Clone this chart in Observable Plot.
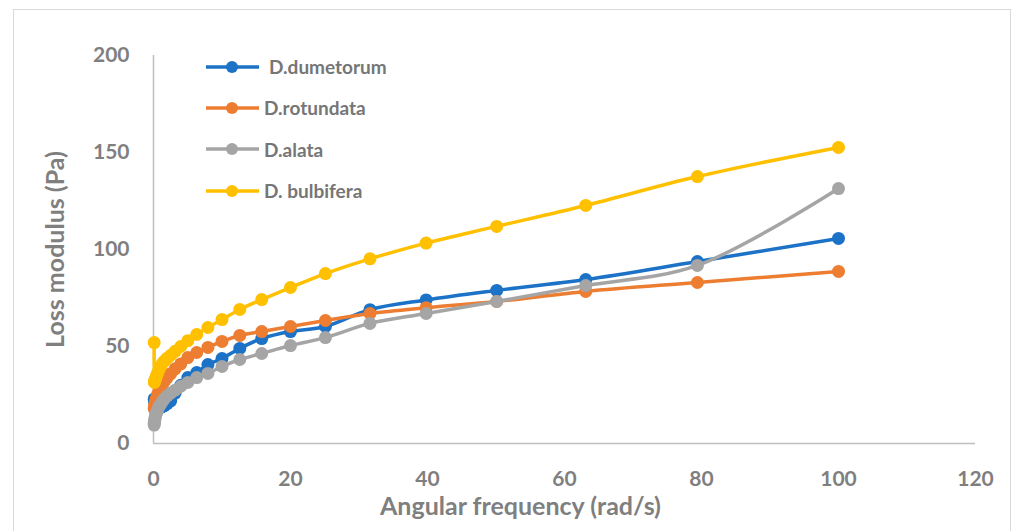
<!DOCTYPE html>
<html>
<head>
<meta charset="utf-8">
<script src="https://cdn.jsdelivr.net/npm/d3@7"></script>
<script src="https://cdn.jsdelivr.net/npm/@observablehq/plot@0.6"></script>
<style>
  html, body { margin: 0; padding: 0; background: #fff; }
  #wrap { position: relative; width: 1019px; height: 531px; overflow: hidden; font-family: Lato, "Open Sans", sans-serif; }
  #frame { position: absolute; left: 13px; top: 9px; width: 998px; height: 540px; border: 1px solid #d9d9d9; box-sizing: border-box; }
  #chart { position: absolute; left: 0; top: 0; }
  #legend { position: absolute; left: 205px; top: 46px; }
  .item { display: flex; align-items: center; height: 41.3px; font-weight: bold; font-size: 19px; color: #767676; }
  .item svg { margin-right: 3px; }
</style>
</head>
<body>
<div id="wrap">
  <div id="frame"></div>
  <div id="chart"></div>
  <div id="legend"></div>
</div>
<script>
const freq = [0.1,0.126,0.158,0.2,0.251,0.316,0.398,0.501,0.631,0.794,1,1.26,1.58,2,2.51,3.16,3.98,5.01,6.31,7.94,10,12.6,15.8,20,25.1,31.6,39.8,50.1,63.1,79.4,100];
const dumetorum = [23,22.5,22,21.5,21,20.5,20,19.5,19,18.5,18.5,19,19.5,20.5,22,26,30,34,36.6,40.7,43.8,49,54.1,57.7,60.3,69,74,78.9,84.5,93.8,105.7];
const rotundata = [18,18.5,19,20,21,22,23,24,25.5,27,28.5,30,32,34,36,38.5,41,44.3,46.9,49.5,52.6,55.7,57.7,60.3,63.4,67,70,73.2,78.4,83,88.7];
const alata = [9.5,10.5,11.5,12.5,13.5,14.5,15.5,16.5,17.5,19,20,21.5,23,24.5,26,27.5,29.5,31.5,34,36.1,39.7,43.3,46.4,50.5,54.6,61.9,67,73.2,81.4,91.8,131.4];
const bulbifera = [52,31.5,32,32.5,33,33.5,34.5,35.5,36.5,38,39.5,41,42.5,44,45.5,47.5,50,53,56.2,59.8,63.9,69.1,74.2,80.4,87.6,95.2,103.3,111.9,122.7,137.6,152.6];

const seriesNames = ["D.dumetorum", "D.rotundata", "D.alata", "D. bulbifera"];
const seriesValues = [dumetorum, rotundata, alata, bulbifera];
const seriesColors = ["#1b72c6", "#ED7D31", "#A5A5A5", "#FFC000"];
const xTicks = [0, 20, 40, 60, 80, 100, 120];
const yTicks = [0, 50, 100, 150, 200];
const xTitle = "Angular frequency (rad/s)";
const yTitle = "Loss modulus (Pa)";

const seriesMarks = [];
seriesNames.forEach((name, i) => {
  const data = freq.map((f, j) => ({f, v: seriesValues[i][j]}));
  seriesMarks.push(Plot.line(data, {x: "f", y: "v", stroke: seriesColors[i], strokeWidth: 3.5, curve: "catmull-rom"}));
  seriesMarks.push(Plot.dot(data, {x: "f", y: "v", fill: seriesColors[i], r: 6.5}));
});

const chart = Plot.plot({
  width: 1019,
  height: 531,
  marginLeft: 153,
  marginRight: 44,
  marginTop: 55,
  marginBottom: 88,
  style: {fontFamily: "Lato, 'Open Sans', sans-serif", fontWeight: "bold", fontSize: "21px", color: "#7f7f7f", background: "transparent", overflow: "visible"},
  x: {domain: [0, 120]},
  y: {domain: [0, 200]},
  marks: [
    Plot.axisX({ticks: xTicks, tickSize: 0, tickPadding: 28, label: null, fontSize: 21}),
    Plot.axisY({ticks: yTicks, tickSize: 0, tickPadding: 24, label: null, fontSize: 21}),
    Plot.ruleY([0], {stroke: "#bfbfbf", strokeWidth: 1.5}),
    Plot.ruleX([0], {stroke: "#bfbfbf", strokeWidth: 1.5}),
    ...seriesMarks,
    Plot.text([xTitle], {frameAnchor: "bottom", textAnchor: "middle", dy: 63, dx: -44, fontSize: 25, fill: "#7f7f7f", fontWeight: "bold", lineAnchor: "middle"}),
    Plot.text([yTitle], {frameAnchor: "left", textAnchor: "middle", dx: -98, rotate: -90, fontSize: 25, fill: "#7f7f7f", fontWeight: "bold", lineAnchor: "middle"})
  ]
});
document.getElementById("chart").appendChild(chart);

const legend = document.getElementById("legend");
seriesNames.forEach((name, i) => {
  const item = document.createElement("div");
  item.className = "item";
  item.innerHTML = `<svg width="56" height="16"><line x1="1" x2="54" y1="8" y2="8" stroke="${seriesColors[i]}" stroke-width="3.5"/><circle cx="27" cy="8" r="6" fill="${seriesColors[i]}"/></svg><span style="margin-left:${i === 0 ? 5 : 0}px">${name}</span>`;
  legend.appendChild(item);
});
</script>
</body>
</html>
